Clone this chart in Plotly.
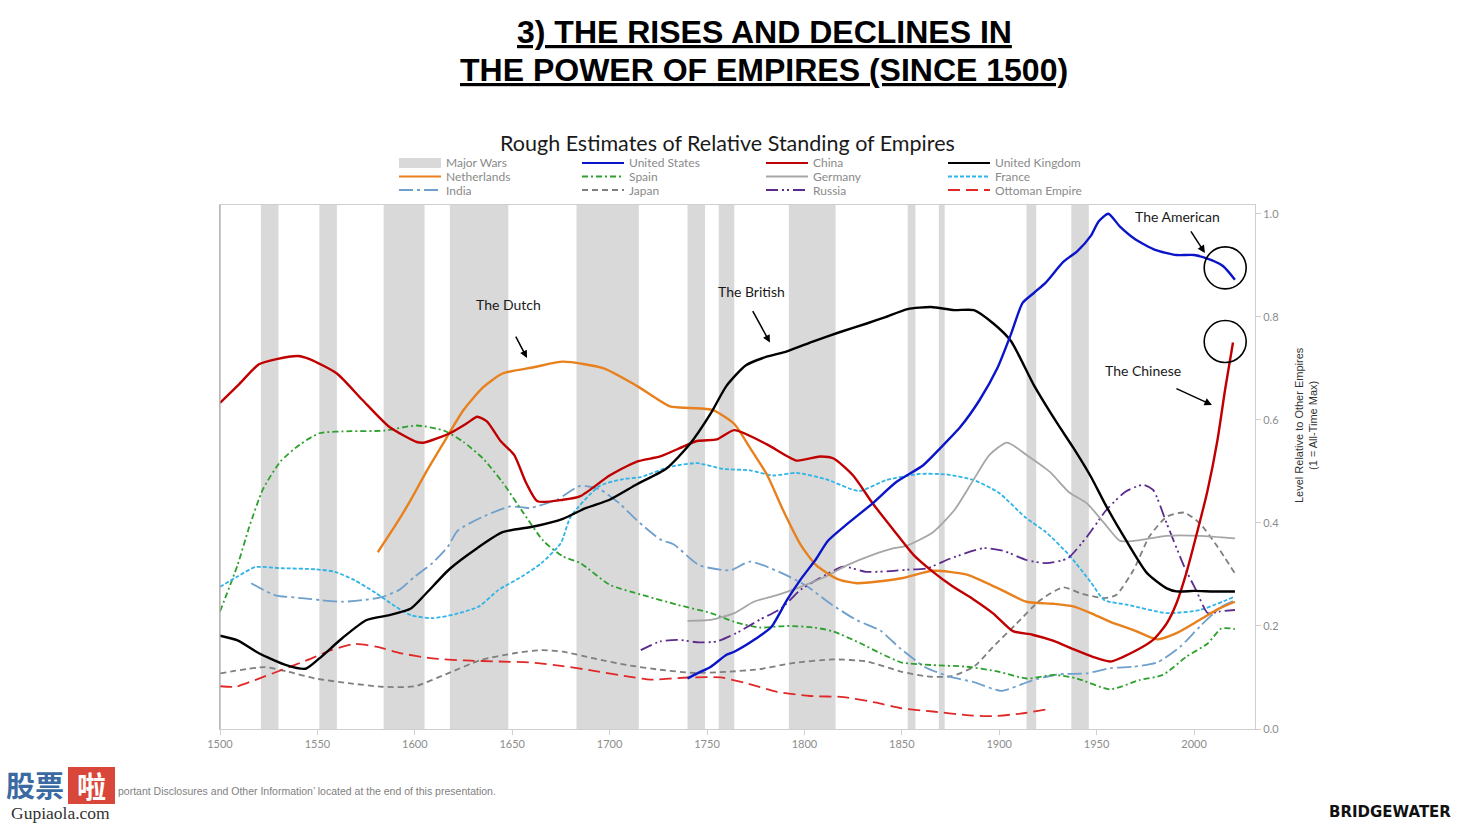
import plotly.graph_objects as go

# ---------------- data ----------------
war_start = [1521, 1551, 1584, 1618, 1683, 1740, 1756, 1792, 1853, 1869, 1914, 1937]
war_end = [1530, 1560, 1605, 1648, 1715, 1749, 1764, 1816, 1857, 1872, 1919, 1946]

china_years = [1500, 1510, 1520, 1529, 1540, 1546, 1560, 1573, 1587, 1601, 1605, 1618, 1627, 1632, 1637,
               1644, 1651, 1657, 1663, 1676, 1685, 1700, 1714, 1726, 1745, 1755, 1764, 1781, 1796, 1808,
               1815, 1825, 1835, 1846, 1856, 1866, 1876, 1887, 1897, 1907, 1917, 1928, 1938, 1948, 1957,
               1969, 1979, 1986, 1991, 1996, 2001, 2007, 2012, 2016, 2020]
china_vals = [0.633, 0.67, 0.708, 0.718, 0.724, 0.718, 0.69, 0.639, 0.586, 0.557, 0.556, 0.574, 0.594, 0.606, 0.597,
              0.559, 0.532, 0.479, 0.442, 0.445, 0.452, 0.492, 0.519, 0.529, 0.559, 0.562, 0.58, 0.552, 0.521, 0.529,
              0.525, 0.492, 0.438, 0.385, 0.338, 0.305, 0.277, 0.251, 0.224, 0.19, 0.183, 0.171, 0.155, 0.14, 0.131,
              0.15, 0.173, 0.205, 0.244, 0.302, 0.373, 0.464, 0.56, 0.66, 0.75]

neth_years = [1581, 1590, 1598, 1606, 1615, 1625, 1635, 1645, 1661, 1676, 1697, 1714, 1731, 1741, 1753, 1764,
              1772, 1781, 1789, 1798, 1806, 1817, 1827, 1849, 1866, 1883, 1900, 1914, 1928, 1938, 1947, 1957,
              1969, 1981, 1991, 2003, 2013, 2021]
neth_vals = [0.343, 0.395, 0.445, 0.50, 0.557, 0.619, 0.663, 0.69, 0.702, 0.713, 0.70, 0.666, 0.626, 0.623, 0.619, 0.592,
             0.546, 0.492, 0.425, 0.358, 0.318, 0.291, 0.283, 0.292, 0.307, 0.30, 0.272, 0.247, 0.243, 0.238, 0.225, 0.208,
             0.192, 0.174, 0.186, 0.212, 0.234, 0.247]

uk_years = [1500, 1509, 1520, 1534, 1544, 1551, 1563, 1575, 1587, 1598, 1606, 1618, 1632, 1645, 1661, 1676,
            1688, 1700, 1714, 1729, 1741, 1752, 1760, 1770, 1781, 1791, 1805, 1818, 1832, 1842, 1853, 1865,
            1877, 1887, 1897, 1906, 1918, 1930, 1938, 1947, 1955, 1965, 1976, 1986, 1991, 2000, 2010, 2021]
uk_vals = [0.181, 0.172, 0.147, 0.124, 0.117, 0.137, 0.177, 0.211, 0.221, 0.234, 0.264, 0.311, 0.351, 0.382, 0.393, 0.408,
           0.429, 0.445, 0.475, 0.505, 0.552, 0.613, 0.666, 0.706, 0.723, 0.733, 0.753, 0.77, 0.787, 0.80, 0.815, 0.819,
           0.813, 0.813, 0.787, 0.753, 0.666, 0.592, 0.546, 0.49, 0.432, 0.367, 0.302, 0.273, 0.267, 0.268, 0.267, 0.267]

us_years = [1740, 1745, 1752, 1760, 1764, 1775, 1783, 1791, 1798, 1806, 1812, 1822, 1835, 1847, 1861, 1870,
            1880, 1890, 1899, 1906, 1912, 1918, 1924, 1933, 1940, 1947, 1951, 1956, 1962, 1970, 1980, 1991,
            2000, 2009, 2015, 2021]
us_vals = [0.098, 0.108, 0.121, 0.144, 0.15, 0.175, 0.198, 0.25, 0.29, 0.33, 0.365, 0.398, 0.438, 0.479, 0.512, 0.546,
           0.586, 0.639, 0.70, 0.766, 0.827, 0.847, 0.867, 0.907, 0.927, 0.957, 0.985, 1.0, 0.975, 0.95, 0.93, 0.92,
           0.92, 0.91, 0.898, 0.872]

spain_years = [1500, 1509, 1515, 1522, 1531, 1541, 1551, 1567, 1584, 1601, 1615, 1625, 1635, 1645, 1656, 1666,
               1676, 1685, 1700, 1717, 1735, 1752, 1764, 1777, 1791, 1805, 1815, 1829, 1839, 1850, 1866, 1883,
               1900, 1914, 1928, 1940, 1957, 1972, 1984, 1996, 2007, 2014, 2021]
spain_vals = [0.228, 0.318, 0.392, 0.465, 0.519, 0.552, 0.574, 0.578, 0.579, 0.589, 0.579, 0.557, 0.525, 0.479, 0.418, 0.365,
              0.335, 0.322, 0.28, 0.26, 0.241, 0.225, 0.208, 0.197, 0.2, 0.197, 0.189, 0.166, 0.147, 0.129, 0.124, 0.121,
              0.111, 0.098, 0.105, 0.098, 0.077, 0.095, 0.105, 0.14, 0.166, 0.195, 0.194]

france_years = [1500, 1509, 1518, 1532, 1549, 1559, 1569, 1580, 1590, 1598, 1609, 1621, 1633, 1643, 1655, 1665,
                1675, 1680, 1695, 1707, 1716, 1731, 1745, 1758, 1772, 1784, 1796, 1811, 1828, 1842, 1859, 1873,
                1887, 1900, 1913, 1924, 1936, 1947, 1954, 1966, 1986, 2003, 2021]
france_vals = [0.276, 0.296, 0.314, 0.312, 0.31, 0.305, 0.289, 0.264, 0.238, 0.221, 0.215, 0.223, 0.238, 0.27, 0.296, 0.322,
               0.361, 0.412, 0.472, 0.485, 0.489, 0.509, 0.516, 0.505, 0.502, 0.492, 0.497, 0.485, 0.462, 0.483, 0.495, 0.494,
               0.483, 0.458, 0.412, 0.382, 0.337, 0.285, 0.25, 0.241, 0.225, 0.231, 0.257]

india_years = [1516, 1528, 1542, 1552, 1563, 1573, 1583, 1592, 1600, 1609, 1617, 1622, 1635, 1649, 1659, 1673,
               1685, 1695, 1705, 1714, 1726, 1733, 1746, 1762, 1772, 1787, 1801, 1813, 1827, 1839, 1849, 1862,
               1875, 1887, 1901, 1916, 1930, 1945, 1957, 1969, 1981, 1993, 2003, 2014, 2021]
india_vals = [0.283, 0.26, 0.254, 0.25, 0.247, 0.25, 0.256, 0.27, 0.296, 0.322, 0.354, 0.385, 0.412, 0.432, 0.429, 0.445,
              0.472, 0.465, 0.438, 0.405, 0.368, 0.358, 0.318, 0.308, 0.325, 0.305, 0.278, 0.244, 0.211, 0.191, 0.157, 0.12,
              0.101, 0.091, 0.074, 0.093, 0.106, 0.108, 0.118, 0.121, 0.129, 0.16, 0.199, 0.237, 0.25]

japan_years = [1500, 1523, 1535, 1549, 1566, 1583, 1600, 1617, 1634, 1651, 1665, 1676, 1692, 1709, 1726, 1743,
               1760, 1777, 1794, 1815, 1832, 1850, 1863, 1875, 1887, 1897, 1909, 1921, 1933, 1942, 1954, 1960,
               1969, 1977, 1986, 1995, 2003, 2012, 2021]
japan_vals = [0.108, 0.12, 0.111, 0.098, 0.089, 0.082, 0.083, 0.108, 0.134, 0.147, 0.153, 0.15, 0.137, 0.124, 0.115, 0.109,
              0.111, 0.116, 0.128, 0.135, 0.131, 0.111, 0.102, 0.102, 0.121, 0.16, 0.205, 0.25, 0.275, 0.263, 0.254, 0.26,
              0.309, 0.373, 0.412, 0.42, 0.399, 0.354, 0.302]

ottoman_years = [1500, 1508, 1518, 1532, 1545, 1557, 1569, 1580, 1593, 1609, 1626, 1643, 1660, 1676, 1692, 1709,
                 1721, 1740, 1757, 1770, 1786, 1803, 1820, 1837, 1850, 1866, 1883, 1897, 1911, 1924]
ottoman_vals = [0.083, 0.082, 0.095, 0.115, 0.134, 0.153, 0.165, 0.16, 0.147, 0.137, 0.133, 0.131, 0.129, 0.122, 0.113, 0.102,
                0.096, 0.10, 0.10, 0.089, 0.072, 0.064, 0.062, 0.051, 0.04, 0.034, 0.027, 0.025, 0.03, 0.038]

germany_years = [1740, 1752, 1764, 1774, 1786, 1798, 1811, 1822, 1835, 1846, 1852, 1866, 1877, 1887, 1895, 1904,
                 1914, 1926, 1936, 1945, 1954, 1962, 1969, 1986, 2003, 2021]
germany_vals = [0.21, 0.212, 0.225, 0.247, 0.26, 0.276, 0.296, 0.318, 0.338, 0.351, 0.355, 0.382, 0.425, 0.485, 0.532, 0.556,
                0.532, 0.499, 0.459, 0.438, 0.399, 0.365, 0.365, 0.375, 0.375, 0.37]

russia_years = [1716, 1726, 1735, 1746, 1755, 1765, 1777, 1788, 1798, 1808, 1820, 1832, 1846, 1852, 1863, 1875,
                1892, 1902, 1914, 1924, 1935, 1945, 1955, 1965, 1974, 1979, 1986, 1995, 2001, 2007, 2013, 2021]
russia_vals = [0.153, 0.17, 0.173, 0.168, 0.17, 0.186, 0.212, 0.234, 0.27, 0.293, 0.315, 0.305, 0.307, 0.309, 0.312, 0.331,
               0.351, 0.346, 0.328, 0.322, 0.331, 0.373, 0.425, 0.461, 0.474, 0.464, 0.399, 0.315, 0.27, 0.225, 0.228, 0.231]

x_ticks = [1500, 1550, 1600, 1650, 1700, 1750, 1800, 1850, 1900, 1950, 2000]
y_ticks = [0.0, 0.2, 0.4, 0.6, 0.8, 1.0]

# ---------------- layout geometry ----------------
W, H = 1475, 824
PL, PR, PT, PB = 220, 1255, 205, 729
X_RANGE = [1500, 2031.3]
Y_RANGE = [0, 1.017]


def pxx(p):
    return (p - PL) / (PR - PL)


def pxy(p):
    return (PB - p) / (PB - PT)


WAR_COLOR = "#d9d9d9"
styles = {
    "United States": dict(color="#0a14c8", dash="solid", width=2.4),
    "China": dict(color="#c00000", dash="solid", width=2.4),
    "United Kingdom": dict(color="#000000", dash="solid", width=2.4),
    "Netherlands": dict(color="#e8801e", dash="solid", width=2.4),
    "Spain": dict(color="#2ea02e", dash="6px,3px,2px,3px", width=1.8),
    "Germany": dict(color="#a6a6a6", dash="solid", width=1.8),
    "France": dict(color="#2fb4e8", dash="4px,2px", width=1.8),
    "India": dict(color="#6f9fcc", dash="14px,4px,3px,4px", width=1.8),
    "Japan": dict(color="#7f7f7f", dash="6px,4px", width=1.8),
    "Russia": dict(color="#5a2a8c", dash="12px,4px,2px,3px,2px,4px", width=1.8),
    "Ottoman Empire": dict(color="#e02828", dash="12px,6px", width=1.8),
}

series = [
    ("Japan", japan_years, japan_vals),
    ("Ottoman Empire", ottoman_years, ottoman_vals),
    ("India", india_years, india_vals),
    ("Spain", spain_years, spain_vals),
    ("France", france_years, france_vals),
    ("Russia", russia_years, russia_vals),
    ("Germany", germany_years, germany_vals),
    ("Netherlands", neth_years, neth_vals),
    ("China", china_years, china_vals),
    ("United Kingdom", uk_years, uk_vals),
    ("United States", us_years, us_vals),
]

fig = go.Figure()

# war bands built from the war periods
wx, wy = [], []
for s, e in zip(war_start, war_end):
    wx += [s, s, e, e, s, None]
    wy += [Y_RANGE[0], Y_RANGE[1], Y_RANGE[1], Y_RANGE[0], Y_RANGE[0], None]
fig.add_trace(go.Scatter(x=wx, y=wy, mode="lines", fill="toself", fillcolor=WAR_COLOR,
                         line=dict(width=0, color=WAR_COLOR), name="Major Wars",
                         hoverinfo="skip", showlegend=False))

for name, xs, ys in series:
    st = styles[name]
    fig.add_trace(go.Scatter(x=xs, y=ys, mode="lines", name=name, showlegend=False,
                             line=dict(color=st["color"], dash=st["dash"], width=st["width"],
                                       shape="spline", smoothing=0.6)))

annotations = []
shapes = []

# darker left frame edge
shapes.append(dict(type="line", xref="paper", yref="paper", x0=0, x1=0, y0=0, y1=1,
                   line=dict(color="#a8a8a8", width=1.2)))

# titles
TITLE_FONT = "Liberation Sans, Arial, sans-serif"
for txt, yy in [("3) THE RISES AND DECLINES IN", 32), ("THE POWER OF EMPIRES (SINCE 1500)", 70)]:
    annotations.append(dict(text="<b><u>" + txt + "</u></b>", xref="paper", yref="paper",
                            x=pxx(764), y=pxy(yy), xanchor="center", yanchor="middle", showarrow=False,
                            font=dict(family=TITLE_FONT, size=32, color="#000000")))

annotations.append(dict(text="Rough Estimates of Relative Standing of Empires", xref="paper", yref="paper",
                        x=pxx(727), y=pxy(143), xanchor="center", yanchor="middle", showarrow=False,
                        font=dict(family="Lato, sans-serif", size=21.5, color="#1a1a1a")))

# manual legend (4 columns x 3 rows)
legend_cols = [["Major Wars", "Netherlands", "India"],
               ["United States", "Spain", "Japan"],
               ["China", "Germany", "Russia"],
               ["United Kingdom", "France", "Ottoman Empire"]]
sym_x = [399, 582, 766, 948]
row_y = [163, 176.5, 190]
for ci, col in enumerate(legend_cols):
    for ri, nm in enumerate(col):
        x0 = sym_x[ci]
        yy = row_y[ri]
        if nm == "Major Wars":
            shapes.append(dict(type="rect", xref="paper", yref="paper", x0=pxx(x0), x1=pxx(x0 + 42),
                               y0=pxy(yy + 5), y1=pxy(yy - 5), fillcolor=WAR_COLOR, line=dict(width=0)))
        else:
            st = styles[nm]
            shapes.append(dict(type="line", xref="paper", yref="paper", x0=pxx(x0), x1=pxx(x0 + 42),
                               y0=pxy(yy), y1=pxy(yy),
                               line=dict(color=st["color"], dash=st["dash"], width=2)))
        annotations.append(dict(text=nm, xref="paper", yref="paper", x=pxx(x0 + 45), y=pxy(yy),
                                xanchor="left", yanchor="middle", showarrow=False,
                                font=dict(family="Lato, sans-serif", size=12, color="#8a8a8a")))

# callout labels and arrows
LABEL_FONT = dict(family="Lato, sans-serif", size=14, color="#1a1a1a")
labels = [("The Dutch", 1648.2, 0.823), ("The British", 1772.6, 0.85),
          ("The American", 1991.3, 0.994), ("The Chinese", 1973.8, 0.695)]
for t, lx, ly in labels:
    annotations.append(dict(text=t, x=lx, y=ly, xref="x", yref="y", showarrow=False,
                            xanchor="center", yanchor="middle", font=LABEL_FONT))
arrows = [(1657.6, 0.72, -12, -23), (1782.3, 0.75, -18, -33),
          (2005.6, 0.924, -15, -23), (2009.2, 0.629, -37, -17)]
for hx, hy, ax, ay in arrows:
    annotations.append(dict(text="", x=hx, y=hy, xref="x", yref="y", ax=ax, ay=ay,
                            showarrow=True, arrowhead=2, arrowsize=1, arrowwidth=1.5,
                            arrowcolor="#000000"))

# circles around the latest readings of the US and China
rx = 21 / ((PR - PL) / (X_RANGE[1] - X_RANGE[0]))
ry = 21 / ((PB - PT) / (Y_RANGE[1] - Y_RANGE[0]))
for cx, cy in [(us_years[-1] - 5, us_vals[-1] + 0.023), (china_years[-1] - 4, china_vals[-1] + 0.002)]:
    shapes.append(dict(type="circle", xref="x", yref="y", x0=cx - rx, x1=cx + rx, y0=cy - ry, y1=cy + ry,
                       line=dict(color="#000000", width=1.6), layer="above"))

# axis title (right side, rotated)
annotations.append(dict(text="Level Relative to Other Empires<br>(1 = All-Time Max)", xref="paper", yref="paper",
                        x=pxx(1306), y=pxy(425), textangle=-90, xanchor="center", yanchor="middle",
                        showarrow=False,
                        font=dict(family="Liberation Sans, Arial, sans-serif", size=11, color="#333333")))

# footer
annotations.append(dict(text="portant Disclosures and Other Information\u2019 located at the end of this presentation.",
                        xref="paper", yref="paper", x=pxx(116), y=pxy(791), xanchor="left", yanchor="middle",
                        showarrow=False,
                        font=dict(family="Liberation Sans, Arial, sans-serif", size=10.5, color="#7f7f7f")))
annotations.append(dict(text="<b>BRIDGEWATER</b>", xref="paper", yref="paper", x=pxx(1390), y=pxy(812),
                        xanchor="center", yanchor="middle", showarrow=False,
                        font=dict(family="DejaVu Sans, sans-serif", size=15, color="#111111")))

# watermark
shapes.append(dict(type="rect", xref="paper", yref="paper", x0=pxx(68), x1=pxx(115), y0=pxy(804), y1=pxy(767),
                   fillcolor="#d9473a", line=dict(width=0)))
annotations.append(dict(text="<b>股票</b>", xref="paper", yref="paper", x=pxx(35), y=pxy(784),
                        xanchor="center", yanchor="middle", showarrow=False,
                        font=dict(family="Noto Sans CJK SC", size=29, color="#3b6aa3")))
annotations.append(dict(text="<b>啦</b>", xref="paper", yref="paper", x=pxx(91.5), y=pxy(785),
                        xanchor="center", yanchor="middle", showarrow=False,
                        font=dict(family="Noto Sans CJK SC", size=29, color="#ffffff")))
annotations.append(dict(text="Gupiaola.com", xref="paper", yref="paper", x=pxx(60), y=pxy(813),
                        xanchor="center", yanchor="middle", showarrow=False,
                        font=dict(family="Liberation Serif, DejaVu Serif, serif", size=17.5, color="#333333")))

fig.update_layout(
    width=W, height=H,
    margin=dict(l=PL, r=W - PR, t=PT, b=H - PB),
    paper_bgcolor="white", plot_bgcolor="white",
    showlegend=False,
    annotations=annotations,
    shapes=shapes,
    xaxis=dict(range=X_RANGE, tickvals=x_ticks, ticks="outside", ticklen=5, tickcolor="#d0d0d0",
               tickfont=dict(family="Lato, sans-serif", size=11, color="#8c8c8c"),
               showline=True, linecolor="#cfcfcf", linewidth=1, mirror=True,
               showgrid=False, zeroline=False),
    yaxis=dict(range=Y_RANGE, side="right", tickvals=y_ticks, tickformat=".1f", ticks="outside",
               ticklen=5, tickcolor="#d0d0d0",
               tickfont=dict(family="Lato, sans-serif", size=11, color="#8c8c8c"),
               showline=True, linecolor="#cfcfcf", linewidth=1, mirror=True,
               showgrid=False, zeroline=False),
)

fig.write_html("out.html", config={"displayModeBar": False},
               post_script="document.body.style.margin='0px';document.body.style.overflow='hidden';")
